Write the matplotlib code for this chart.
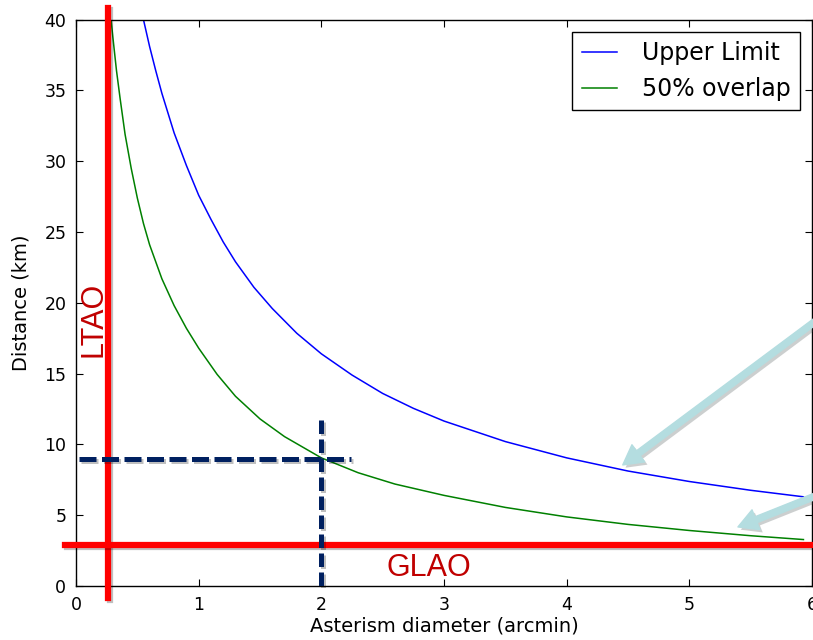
import matplotlib
matplotlib.use("Agg")
import matplotlib.pyplot as plt
import matplotlib.patheffects as pe
from matplotlib.patches import FancyArrowPatch

# curves
upper_x = [0.55, 0.6, 0.65, 0.7, 0.75, 0.8, 0.9, 1.0, 1.1, 1.2, 1.3, 1.45, 1.6, 1.8,
           2.0, 2.25, 2.5, 2.75, 3.0, 3.5, 4.0, 4.5, 5.0, 5.5, 5.93]
upper_y = [40.0, 38.1, 36.4, 34.8, 33.4, 32.0, 29.7, 27.6, 25.9, 24.3, 22.9, 21.1, 19.6, 17.85,
           16.4, 14.9, 13.6, 12.55, 11.65, 10.2, 9.05, 8.12, 7.38, 6.76, 6.3]

overlap_x = [0.28, 0.3, 0.33, 0.36, 0.4, 0.45, 0.5, 0.55, 0.6, 0.7, 0.8, 0.9, 1.0, 1.15,
             1.3, 1.5, 1.7, 2.0, 2.3, 2.6, 3.0, 3.5, 4.0, 4.5, 5.0, 5.5, 5.93]
overlap_y = [40.5, 38.8, 36.4, 34.4, 31.9, 29.5, 27.4, 25.6, 24.1, 21.7, 19.8, 18.2, 16.8, 14.95,
             13.4, 11.8, 10.55, 9.05, 8.0, 7.2, 6.4, 5.55, 4.88, 4.35, 3.92, 3.55, 3.28]

labels = ["Upper Limit", "50% overlap"]
x_ticks = [0, 1, 2, 3, 4, 5, 6]
y_ticks = [0, 5, 10, 15, 20, 25, 30, 35, 40]

ltao_x = 0.26
glao_y = 2.9
chosen_x, chosen_y = 2.0, 9.0

fig = plt.figure(figsize=(8.13, 6.4), dpi=100)
ax = fig.add_axes([0.0935, 0.0844, 0.9053, 0.8848])

ax.plot(upper_x, upper_y, color="#0000ff", lw=1.1, label=labels[0])
ax.plot(overlap_x, overlap_y, color="#008000", lw=1.1, label=labels[1])

ax.set_xlim(0, 6)
ax.set_ylim(0, 40)
ax.set_xticks(x_ticks)
ax.set_yticks(y_ticks)
ax.tick_params(direction="in", top=True, right=True, length=5, width=0.8,
               labelsize=12.5, pad=7)
for s in ax.spines.values():
    s.set_linewidth(1.0)
ax.set_xlabel("Asterism diameter (arcmin)", fontsize=14, labelpad=2)
ax.set_ylabel("Distance (km)", fontsize=14, labelpad=10)

leg = ax.legend(loc="upper right", fontsize=17, handlelength=1.5, handletextpad=1.05,
                fancybox=False, framealpha=1, edgecolor="black", borderaxespad=0.5)
leg.get_frame().set_linewidth(1.0)

shadow = [pe.SimpleLineShadow(offset=(1.5, -1.5), alpha=0.25), pe.Normal()]

# red LTAO / GLAO lines
ax.plot([ltao_x, ltao_x], [-0.85, 40.8], color="#ff0000", lw=4.5, clip_on=False,
        path_effects=shadow, zorder=4)
ax.plot([-0.09, 6.1], [glao_y, glao_y], color="#ff0000", lw=4.5, clip_on=False,
        path_effects=shadow, zorder=4)

# dashed navy guides
ax.plot([0.025, 2.24], [chosen_y, chosen_y], color="#002060", lw=3.6, clip_on=False,
        dashes=(3.4, 1.1), path_effects=shadow, zorder=5)
ax.plot([chosen_x, chosen_x], [11.7, 0], color="#002060", lw=3.6, clip_on=False,
        dashes=(2.7, 1.1), path_effects=shadow, zorder=5)

ax.text(0.141, 18.8, "LTAO", rotation=90, color="#c00000", fontsize=22,
        family="Liberation Sans", ha="center", va="center")
ax.text(2.88, 1.25, "GLAO", color="#c00000", fontsize=22,
        family="Liberation Sans", ha="center", va="center")

# light blue arrows
arrow_shadow = [pe.SimplePatchShadow(offset=(2, -2), alpha=0.25), pe.Normal()]
for tail, tip in [((6.1, 19.17), (4.457, 8.55)), ((6.09, 6.57), (5.396, 4.17))]:
    a = FancyArrowPatch(tail, tip, arrowstyle="simple,head_length=1.0,head_width=1.1,tail_width=0.32",
                        mutation_scale=14, color="#b4dde0", clip_on=False, zorder=6,
                        shrinkA=0, shrinkB=0, path_effects=arrow_shadow)
    ax.add_patch(a)

fig.savefig("out.png", dpi=100)
